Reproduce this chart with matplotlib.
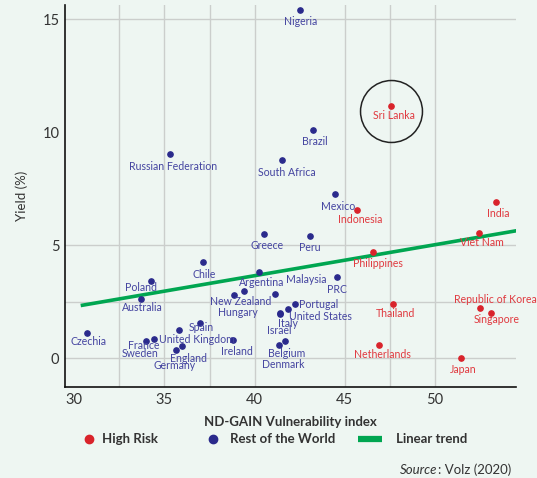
import matplotlib
matplotlib.use("Agg")
import matplotlib.pyplot as plt
from matplotlib.lines import Line2D
from matplotlib.transforms import ScaledTranslation

plt.rcParams['font.family'] = ['Lato', 'DejaVu Sans']

# ---------------- data ----------------
rest_names = ["Nigeria", "Russian Federation", "South Africa", "Brazil", "Mexico",
              "Greece", "Peru", "Chile", "Argentina", "Malaysia", "PRC", "Poland",
              "Australia", "New Zealand", "Hungary", "Portugal", "United States",
              "Italy", "Israel", "Belgium", "Denmark", "Ireland", "Czechia", "Spain",
              "United Kingdom", "France", "Sweden", "England", "Germany"]
rest_x = [42.54, 35.33, 41.54, 43.22, 44.46, 40.52, 43.07, 37.12, 40.24, 41.11, 44.58,
          34.24, 33.72, 39.41, 38.87, 42.24, 41.87, 41.41, 41.40, 41.37, 41.70, 38.80,
          30.71, 36.99, 35.81, 34.00, 34.41, 35.98, 35.64]
rest_y = [15.41, 9.03, 8.77, 10.09, 7.25, 5.50, 5.42, 4.24, 3.83, 2.86, 3.59, 3.40,
          2.63, 2.98, 2.81, 2.39, 2.17, 1.99, 1.97, 0.60, 0.78, 0.81, 1.12, 1.54,
          1.24, 0.78, 0.84, 0.54, 0.37]

risk_names = ["Sri Lanka", "Indonesia", "India", "Viet Nam", "Philippines", "Thailand",
              "Republic of Korea", "Singapore", "Netherlands", "Japan"]
risk_x = [47.58, 45.66, 53.38, 52.42, 46.56, 47.67, 52.49, 53.09, 46.88, 51.46]
risk_y = [11.17, 6.56, 6.90, 5.55, 4.70, 2.40, 2.21, 2.02, 0.59, 0.00]

trend_x = [30.36, 54.53]
trend_y = [2.33, 5.64]

highlight = "Sri Lanka"

x_ticks = [30, 35, 40, 45, 50]
y_ticks = [0, 5, 10, 15]
x_grid = [32.5, 35, 37.5, 40, 45, 47.5, 50]
y_grid = [0, 2.5, 5, 15]

# label offsets in pixels (dx right, dy down)
rest_off = {"Nigeria": (0, 12), "Russian Federation": (3, 12), "South Africa": (4, 13),
            "Brazil": (2, 11), "Mexico": (3, 12), "Greece": (3, 12), "Peru": (0, 12),
            "Chile": (2, 12), "Argentina": (3, 11), "Malaysia": (32, -14), "PRC": (0, 12),
            "Poland": (-10, 6), "Australia": (1, 9), "New Zealand": (-3, 11),
            "Hungary": (4, 18), "Portugal": (24, 0), "United States": (32, 7),
            "Italy": (8, 10), "Israel": (-1, 17), "Belgium": (7, 9), "Denmark": (-2, 24),
            "Ireland": (4, 12), "Czechia": (1, 9), "Spain": (1, 4),
            "United Kingdom": (18, 9), "France": (-3, 5), "Sweden": (-14, 14),
            "England": (6, 12), "Germany": (-1, 16)}
risk_off = {"Sri Lanka": (3, 10), "Indonesia": (3, 10), "India": (2, 11),
            "Viet Nam": (3, 10), "Philippines": (5, 12), "Thailand": (3, 10),
            "Republic of Korea": (15, -9), "Singapore": (6, 7), "Netherlands": (4, 10),
            "Japan": (2, 11)}

# ---------------- style ----------------
BG = "#EEF6F2"
BLUE = "#2A2A8C"
BLUE_T = "#4444A0"
RED = "#D9232B"
RED_T = "#E0393F"
GREEN = "#00A651"
GRID = "#CBCECC"
TXT = "#333333"

W, H = 537, 478
fig = plt.figure(figsize=(W / 100, H / 100), dpi=100, facecolor=BG)
ax = fig.add_axes([65 / W, 1 - 386.5 / H, (516 - 65) / W, (386.5 - 5) / H])
ax.set_facecolor(BG)

ax.set_xlim(29.49, 54.49)
ax.set_ylim(-1.25, 15.62)

ax.xaxis.remove_overlapping_locs = False
ax.yaxis.remove_overlapping_locs = False
ax.set_xticks(x_ticks)
ax.set_yticks(y_ticks)
ax.set_xticks(x_grid, minor=True)
ax.set_yticks(y_grid, minor=True)
ax.tick_params(which='both', length=0)
ax.tick_params(axis='x', pad=5, labelsize=10.5, labelcolor=TXT)
ax.tick_params(axis='y', pad=4, labelsize=10.5, labelcolor=TXT)
ax.grid(which='minor', color=GRID, lw=1.0)
ax.grid(which='major', visible=False)
ax.set_axisbelow(True)

for s in ['top', 'right']:
    ax.spines[s].set_visible(False)
for s in ['left', 'bottom']:
    ax.spines[s].set_color("#111111")
    ax.spines[s].set_linewidth(1.2)

ax.plot(trend_x, trend_y, color=GREEN, lw=2.6, solid_capstyle='butt', zorder=2)
ax.plot(rest_x, rest_y, ls='none', marker='o', ms=3.8, color=BLUE, zorder=3)
ax.plot(risk_x, risk_y, ls='none', marker='o', ms=3.8, color=RED, zorder=3)

for n, x, y in zip(rest_names, rest_x, rest_y):
    dx, dy = rest_off[n]
    ax.annotate(n, (x, y), xytext=(dx, -dy), textcoords='offset pixels',
                ha='center', va='center', fontsize=7.6, color=BLUE_T, zorder=4)
for n, x, y in zip(risk_names, risk_x, risk_y):
    dx, dy = risk_off[n]
    ax.annotate(n, (x, y), xytext=(dx, -dy), textcoords='offset pixels',
                ha='center', va='center', fontsize=7.6, color=RED_T, zorder=4)

hi = risk_names.index(highlight)
ax.plot([risk_x[hi]], [risk_y[hi]], ls='none', marker='o', ms=44.6, mfc='none',
        mec="#222222", mew=1.1, zorder=5,
        transform=ax.transData + ScaledTranslation(0, -5 / 100, fig.dpi_scale_trans))

ax.set_xlabel("ND-GAIN Vulnerability index", fontsize=9.5, fontweight='bold',
              color=TXT, labelpad=6)
ax.set_ylabel("Yield (%)", fontsize=9.5, color=TXT, labelpad=10)


def one_legend(handle, label, x_px, pad_px):
    fs = 9.5
    em = fs * 100 / 72
    return fig.legend([handle], [label], loc='center left',
                      bbox_to_anchor=(x_px / W, 1 - 439.2 / H), frameon=False,
                      handlelength=24 / em, handletextpad=pad_px / em,
                      borderpad=0, borderaxespad=0, prop={'weight': 'bold', 'size': fs},
                      labelcolor=TXT)


one_legend(Line2D([], [], ls='none', marker='o', ms=6, color=RED), "High Risk", 77, 1)
one_legend(Line2D([], [], ls='none', marker='o', ms=6, color=BLUE), "Rest of the World", 201, 4.5)
one_legend(Line2D([], [], color=GREEN, lw=4.5, solid_capstyle='butt'), "Linear trend", 358, 14)

t1 = fig.text(511 / W, 1 - 469.7 / H, ": Volz (2020)", ha='right', va='center',
              fontsize=9.5, color=TXT)
ax.annotate("Source", xy=(0, 0.5), xycoords=t1, ha='right', va='center',
            fontsize=9.5, color=TXT, style='italic', annotation_clip=False)

fig.savefig("out.png", dpi=100, facecolor=BG)
